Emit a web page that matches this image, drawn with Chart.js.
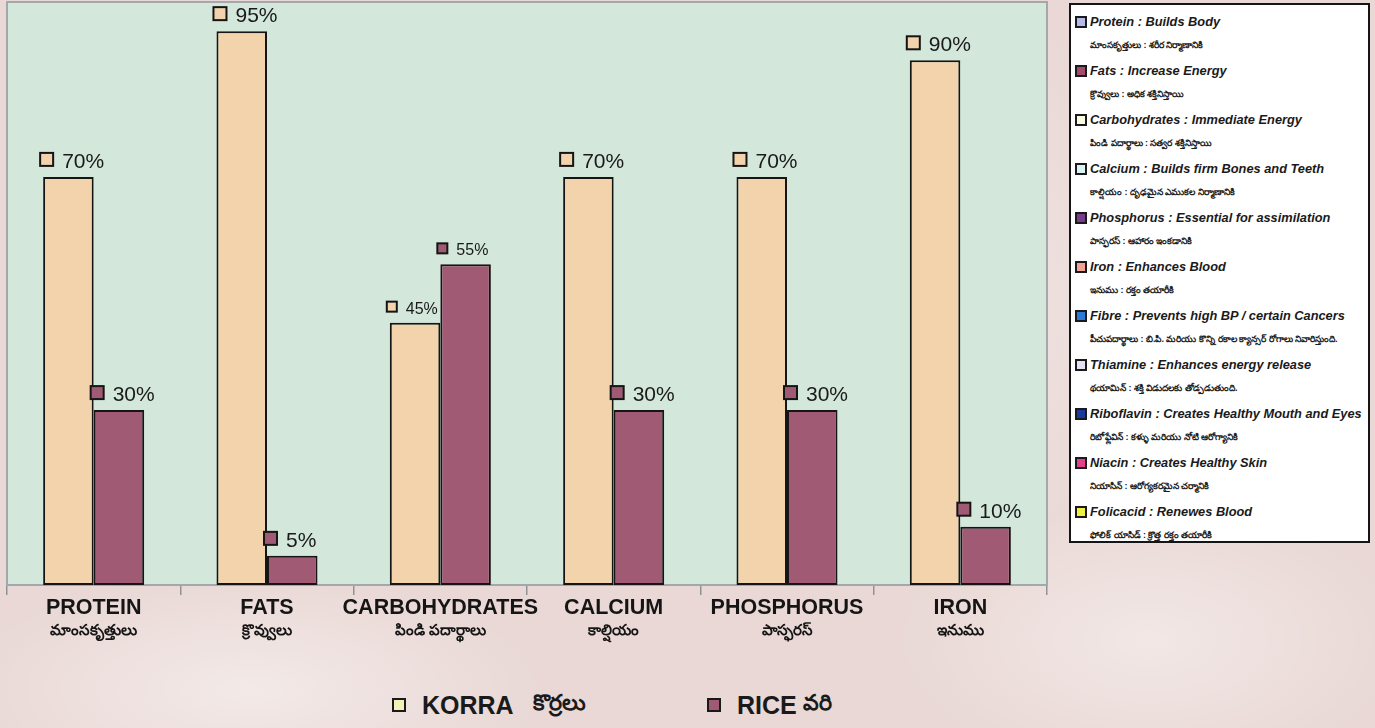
<!DOCTYPE html>
<html>
<head>
<meta charset="utf-8">
<script src="https://cdn.jsdelivr.net/npm/chart.js@4.4.1/dist/chart.umd.min.js"></script>
<style>
  html, body { margin: 0; padding: 0; }
  body {
    width: 1375px; height: 728px; overflow: hidden; position: relative;
    font-family: "Liberation Sans", Arial, sans-serif;
    background:
      radial-gradient(ellipse 300px 120px at 250px 690px, rgba(255,255,255,0.45), rgba(255,255,255,0)),
      radial-gradient(ellipse 260px 140px at 1150px 640px, rgba(255,255,255,0.4), rgba(255,255,255,0)),
      radial-gradient(ellipse 200px 300px at 1000px 300px, rgba(255,255,255,0.25), rgba(255,255,255,0)),
      #e9d8d5;
  }
  #wrap { position: absolute; left: 0; top: 0; width: 1060px; height: 660px; }
  #notes {
    position: absolute; left: 1069px; top: 3px; width: 297px; height: 536px;
    background: #fff; border: 2px solid #151515; box-sizing: content-box;
  }
  .note { position: absolute; left: 0; width: 297px; }
  .note .sw {
    position: absolute; left: 4px; top: 3px; width: 8px; height: 8px;
    border: 2px solid #1a1a1a;
  }
  .note .en {
    position: absolute; left: 19px; top: 1px; white-space: nowrap;
    font: italic bold 12.8px "Liberation Sans", Arial, sans-serif; color: #1a1a1a;
  }
  .note .te {
    position: absolute; left: 19px; top: 27px; white-space: nowrap;
    font: bold 9px "Liberation Sans", Arial, sans-serif; color: #1a1a1a;
  }
  #legend { position: absolute; top: 690px; left: 0; width: 1060px; height: 30px; }
  .lg { position: absolute; top: 0; display: flex; align-items: center; height: 30px;
        font: bold 25px "Liberation Sans", Arial, sans-serif; color: #1a1a1a; }
  .lg .sw { width: 10px; height: 10px; border: 2px solid #1a1a1a; margin-right: 16px; }
  .lg .te { font-size: 22px; }
</style>
</head>
<body>
<div id="wrap"><canvas id="nutriChart" width="1060" height="660"></canvas></div>
<div id="notes"></div>
<div id="legend"></div>
<script>
// ---- data ----
const categories = ['PROTEIN', 'FATS', 'CARBOHYDRATES', 'CALCIUM', 'PHOSPHORUS', 'IRON'];
const categoriesTe = ['మాంసకృత్తులు', 'క్రొవ్వులు', 'పిండి పదార్థాలు', 'కాల్షియం', 'పాస్ఫరస్', 'ఇనుము'];
const korraValues = [70, 95, 45, 70, 70, 90];
const riceValues = [30, 5, 55, 30, 30, 10];
const seriesNames = ['KORRA', 'RICE'];
const seriesNamesTe = ['కొర్రలు', 'వరి'];

const noteNames = [
  'Protein : Builds Body',
  'Fats : Increase Energy',
  'Carbohydrates : Immediate Energy',
  'Calcium : Builds firm Bones and Teeth',
  'Phosphorus : Essential for assimilation',
  'Iron : Enhances Blood',
  'Fibre : Prevents high BP / certain Cancers',
  'Thiamine : Enhances energy release',
  'Riboflavin : Creates Healthy Mouth and Eyes',
  'Niacin : Creates Healthy Skin',
  'Folicacid : Renewes Blood'
];
const noteNamesTe = [
  'మాంసకృత్తులు : శరీర నిర్మాణానికి',
  'క్రొవ్వులు : అధిక శక్తినిస్తాయి',
  'పిండి పదార్థాలు : సత్వర శక్తినిస్తాయి',
  'కాల్షియం : దృఢమైన ఎముకల నిర్మాణానికి',
  'పాస్ఫరస్ : ఆహారం ఇంకడానికి',
  'ఇనుము : రక్తం తయారీకి',
  'పీచుపదార్థాలు : బి.పి. మరియు కొన్ని రకాల క్యాన్సర్ రోగాలు నివారిస్తుంది.',
  'థయామిన్ : శక్తి విడుదలకు తోడ్పడుతుంది.',
  'రిబోఫ్లేవిన్ : కళ్ళు మరియు నోటి ఆరోగ్యానికి',
  'నియాసిన్ : ఆరోగ్యకరమైన చర్మానికి',
  'ఫోలిక్ యాసిడ్ : క్రొత్త రక్తం తయారీకి'
];
const noteColors = ['#b3b9ea', '#a24b6c', '#fbfbe2', '#daf3f7', '#7b3b8c', '#f2a394',
                    '#2b7ad6', '#e2e2f4', '#1b3a9b', '#e0428b', '#f2f03f'];

// ---- colours ----
const korraColor = '#f3d3ac';
const riceColor = '#a15a74';
const legendKorra = '#f5f1b6';
const labelSizes = [21, 21, 16, 21, 21, 21];

// right-hand notes panel
const notes = document.getElementById('notes');
noteNames.forEach((name, i) => {
  const d = document.createElement('div');
  d.className = 'note';
  d.style.top = (8 + i * 49) + 'px';
  d.innerHTML = '<div class="sw" style="background:' + noteColors[i] + '"></div>' +
    '<div class="en">' + name + '</div><div class="te">' + noteNamesTe[i] + '</div>';
  notes.appendChild(d);
});

// bottom legend
const legend = document.getElementById('legend');
const legendLefts = [392, 707];
const legendGaps = [19, 6];
[legendKorra, riceColor].forEach((c, i) => {
  const d = document.createElement('div');
  d.className = 'lg';
  d.style.left = legendLefts[i] + 'px';
  d.innerHTML = '<div class="sw" style="background:' + c + '"></div>' +
    '<span>' + seriesNames[i] + '</span><span class="te" style="margin-left:' + legendGaps[i] + 'px">' +
    seriesNamesTe[i] + '</span>';
  legend.appendChild(d);
});

// plot background and border
const plotFrame = {
  id: 'plotFrame',
  beforeDatasetsDraw(chart) {
    const { ctx, chartArea: a } = chart;
    ctx.save();
    ctx.fillStyle = '#d3e7db';
    ctx.fillRect(a.left, a.top, a.right - a.left, a.bottom - a.top);
    ctx.strokeStyle = '#a3a8ac';
    ctx.lineWidth = 2;
    ctx.strokeRect(a.left, a.top, a.right - a.left, a.bottom - a.top);
    ctx.restore();
  }
};

// value labels with a small marker square
const valueLabels = {
  id: 'valueLabels',
  afterDatasetsDraw(chart) {
    const ctx = chart.ctx;
    ctx.save();
    chart.data.datasets.forEach((ds, di) => {
      chart.getDatasetMeta(di).data.forEach((bar, i) => {
        const size = labelSizes[i];
        const sq = Math.round(size * 0.62);
        const left = bar.x - bar.width / 2;
        const base = bar.y - 11;
        ctx.fillStyle = ds.backgroundColor;
        ctx.fillRect(left - 3, base - sq, sq, sq);
        ctx.strokeStyle = '#151515';
        ctx.lineWidth = 2;
        ctx.strokeRect(left - 3, base - sq, sq, sq);
        ctx.fillStyle = '#1a1a1a';
        ctx.font = size + 'px "Liberation Sans", Arial, sans-serif';
        ctx.textBaseline = 'alphabetic';
        ctx.textAlign = 'left';
        ctx.fillText(ds.data[i] + '%', left + sq + 6, base + 2);
      });
    });
    ctx.restore();
  }
};

// two-line category labels
const catLabels = {
  id: 'catLabels',
  afterDraw(chart) {
    const ctx = chart.ctx;
    const x = chart.scales.x;
    ctx.save();
    ctx.fillStyle = '#151515';
    ctx.textAlign = 'center';
    ctx.textBaseline = 'middle';
    categories.forEach((c, i) => {
      const px = x.getPixelForValue(i);
      ctx.font = 'bold 21.5px "Liberation Sans", Arial, sans-serif';
      ctx.fillText(c, px, 608);
      ctx.font = 'bold 15px "Liberation Sans", Arial, sans-serif';
      ctx.fillText(categoriesTe[i], px, 631);
    });
    ctx.restore();
  }
};

new Chart(document.getElementById('nutriChart'), {
  type: 'bar',
  data: {
    labels: categories,
    datasets: [
      { label: seriesNames[0], data: korraValues, backgroundColor: korraColor },
      { label: seriesNames[1], data: riceValues, backgroundColor: riceColor }
    ]
  },
  options: {
    responsive: false,
    animation: false,
    devicePixelRatio: 1,
    layout: { padding: { left: 7, right: 13, top: 2, bottom: 0 } },
    datasets: {
      bar: {
        categoryPercentage: 0.583,
        barPercentage: 1,
        borderColor: '#151515',
        borderWidth: 2,
        borderSkipped: false
      }
    },
    plugins: { legend: { display: false }, tooltip: { enabled: false } },
    scales: {
      x: {
        grid: { drawOnChartArea: false, drawTicks: true, tickLength: 10, color: '#8f9396', lineWidth: 1.5 },
        border: { display: false },
        ticks: { display: false },
        afterFit(scale) { scale.height = 75; }
      },
      y: { display: false, min: 0, max: 100 }
    }
  },
  plugins: [plotFrame, valueLabels, catLabels]
});
</script>
</body>
</html>
